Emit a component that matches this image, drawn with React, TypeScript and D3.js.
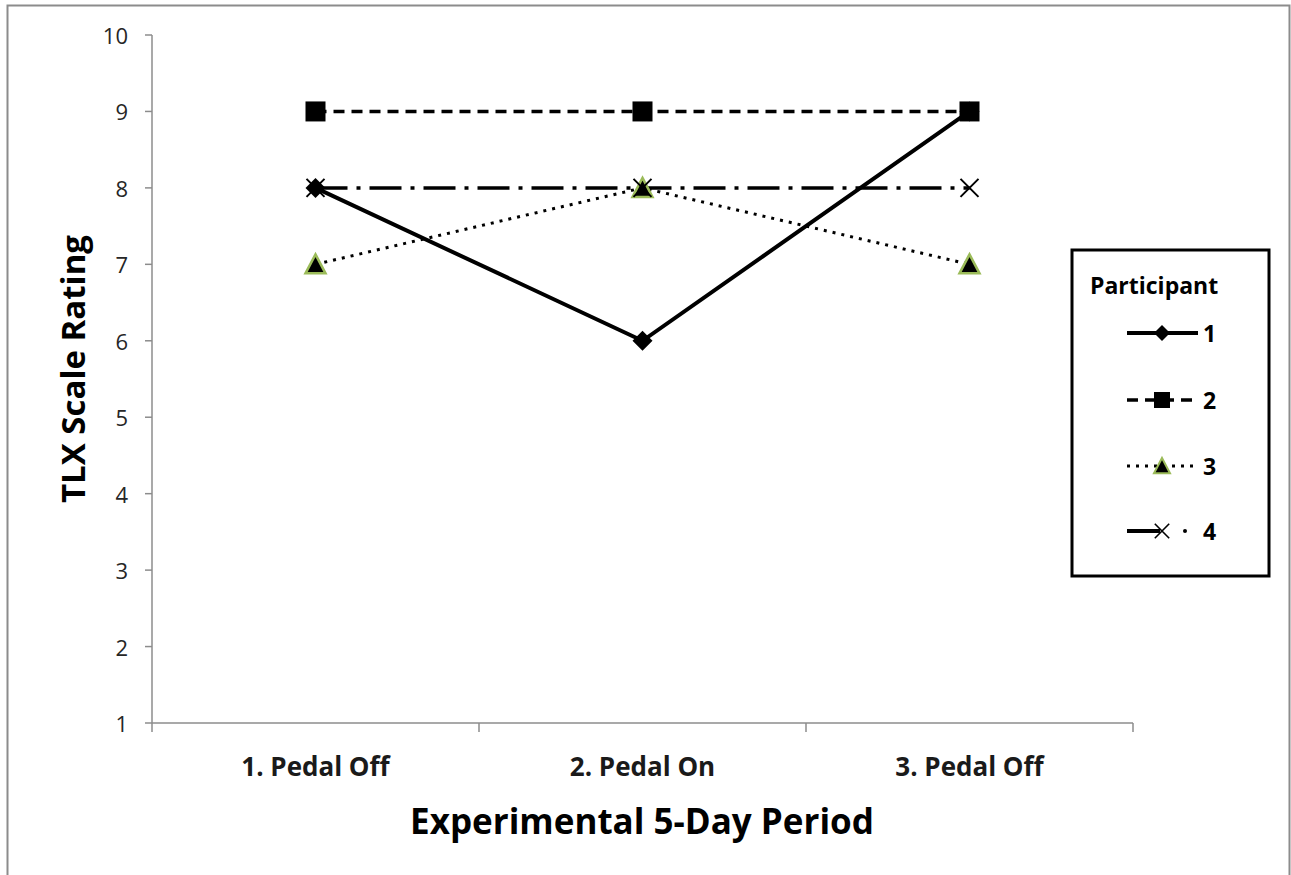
import React from "react";
import * as d3 from "d3";

const categories = ["1. Pedal Off", "2. Pedal On", "3. Pedal Off"];
const participants = ["1", "2", "3", "4"];
const p1 = [8, 6, 9];
const p2 = [9, 9, 9];
const p3 = [7, 8, 7];
const p4 = [8, 8, 8];
const yTicks = [1, 2, 3, 4, 5, 6, 7, 8, 9, 10];

const W = 1291;
const H = 875;
const left = 152;
const right = 1133;
const top = 35;
const bottom = 723;

const FONT = "'Open Sans', 'Liberation Sans', sans-serif";

type Marker = "diamond" | "square" | "triangle" | "x";
const seriesList: { name: string; values: number[]; dash: string; marker: Marker; width: number }[] = [
  { name: participants[0], values: p1, dash: "", marker: "diamond", width: 4 },
  { name: participants[1], values: p2, dash: "11 7", marker: "square", width: 3.5 },
  { name: participants[2], values: p3, dash: "3 6", marker: "triangle", width: 3 },
  { name: participants[3], values: p4, dash: "32 9 4 9", marker: "x", width: 3.5 },
];

function MarkerShape({ type, x, y }: { type: Marker; x: number; y: number }) {
  if (type === "diamond") {
    const s = 10;
    return <path d={`M${x},${y - s}L${x + s},${y}L${x},${y + s}L${x - s},${y}Z`} fill="#000" />;
  }
  if (type === "square") {
    const s = 10;
    return <rect x={x - s} y={y - s} width={2 * s} height={2 * s} fill="#000" />;
  }
  if (type === "triangle") {
    const s = 10;
    return (
      <path
        d={`M${x},${y - s}L${x + s},${y + s - 1}L${x - s},${y + s - 1}Z`}
        fill="#000"
        stroke="#9BBB59"
        strokeWidth={2.5}
        strokeLinejoin="miter"
      />
    );
  }
  const s = 9;
  return (
    <path
      d={`M${x - s},${y - s}L${x + s},${y + s}M${x - s},${y + s}L${x + s},${y - s}`}
      stroke="#000"
      strokeWidth={2}
      fill="none"
    />
  );
}

export default function App() {
  const x = d3.scaleBand<string>().domain(categories).range([left, right]);
  const y = d3.scaleLinear().domain([1, 10]).range([bottom, top]);
  const cx = (c: string) => (x(c) ?? 0) + x.bandwidth() / 2;
  const line = d3
    .line<number>()
    .x((_, i) => cx(categories[i]))
    .y((v) => y(v));

  const boundaries = [...categories.map((c) => x(c) ?? 0), right];

  const legendX = 1072;
  const legendY = 250;
  const legendRows = [333, 400, 466, 531];

  return (
    <svg
      width={W}
      height={H}
      style={{ position: "absolute", left: 0, top: 0, display: "block" }}
      fontFamily={FONT}
    >
      <rect x={0} y={0} width={W} height={H} fill="#fff" />
      {/* outer frame */}
      <path d={`M7.5,${H}V5.5H1289.5V${H}`} fill="none" stroke="#8c8c8c" strokeWidth={2} />

      {/* y axis */}
      <line x1={left} x2={left} y1={top} y2={bottom} stroke="#8c8c8c" strokeWidth={1.5} />
      {yTicks.map((t) => (
        <g key={t}>
          <line x1={left - 7} x2={left} y1={y(t)} y2={y(t)} stroke="#8c8c8c" strokeWidth={1.5} />
          <text
            x={left - 24}
            y={y(t)}
            textAnchor="end"
            dominantBaseline="central"
            fontSize={22}
            fill="#262626"
          >
            {t}
          </text>
        </g>
      ))}

      {/* x axis */}
      <line x1={left} x2={right} y1={bottom} y2={bottom} stroke="#8c8c8c" strokeWidth={1.5} />
      {boundaries.map((b, i) => (
        <line key={i} x1={b} x2={b} y1={bottom} y2={bottom + 9} stroke="#8c8c8c" strokeWidth={1.5} />
      ))}
      {categories.map((c) => (
        <text
          key={c}
          x={cx(c)}
          y={766}
          textAnchor="middle"
          dominantBaseline="central"
          fontSize={26}
          fontWeight="bold"
          fill="#1a1a1a"
        >
          {c}
        </text>
      ))}

      {/* axis titles */}
      <text
        x={642}
        y={820}
        textAnchor="middle"
        dominantBaseline="central"
        fontSize={35}
        fontWeight="bold"
        fill="#000"
      >
        Experimental 5-Day Period
      </text>
      <text
        transform={`translate(72,369) rotate(-90)`}
        textAnchor="middle"
        dominantBaseline="central"
        fontSize={33}
        fontWeight="bold"
        fill="#000"
      >
        TLX Scale Rating
      </text>

      {/* series lines */}
      {seriesList.map((s) => (
        <path
          key={"l" + s.name}
          d={line(s.values) ?? ""}
          fill="none"
          stroke="#000"
          strokeWidth={s.width}
          strokeDasharray={s.dash || undefined}
        />
      ))}
      {seriesList.map((s) => (
        <g key={"m" + s.name}>
          {s.values.map((v, i) => (
            <MarkerShape key={i} type={s.marker} x={cx(categories[i])} y={y(v)} />
          ))}
        </g>
      ))}

      {/* legend */}
      <rect x={legendX} y={legendY} width={197} height={326} fill="#fff" stroke="#000" strokeWidth={3} />
      <text x={1090} y={285} dominantBaseline="central" fontSize={23} fontWeight="bold" fill="#000">
        Participant
      </text>
      {seriesList.map((s, i) => {
        const ly = legendRows[i];
        return (
          <g key={"lg" + s.name}>
            {s.marker === "x" ? (
              <>
                <line x1={1127} x2={1160} y1={ly} y2={ly} stroke="#000" strokeWidth={4} />
                <circle cx={1185} cy={ly} r={2} fill="#000" />
              </>
            ) : (
              <line
                x1={1127}
                x2={1198}
                y1={ly}
                y2={ly}
                stroke="#000"
                strokeWidth={s.width}
                strokeDasharray={s.dash || undefined}
              />
            )}
            <g transform={`translate(${1162},${ly}) scale(0.8) translate(${-1162},${-ly})`}>
              <MarkerShape type={s.marker} x={1162} y={ly} />
            </g>
            <text x={1203} y={ly} dominantBaseline="central" fontSize={23} fontWeight="bold" fill="#000">
              {s.name}
            </text>
          </g>
        );
      })}
    </svg>
  );
}
